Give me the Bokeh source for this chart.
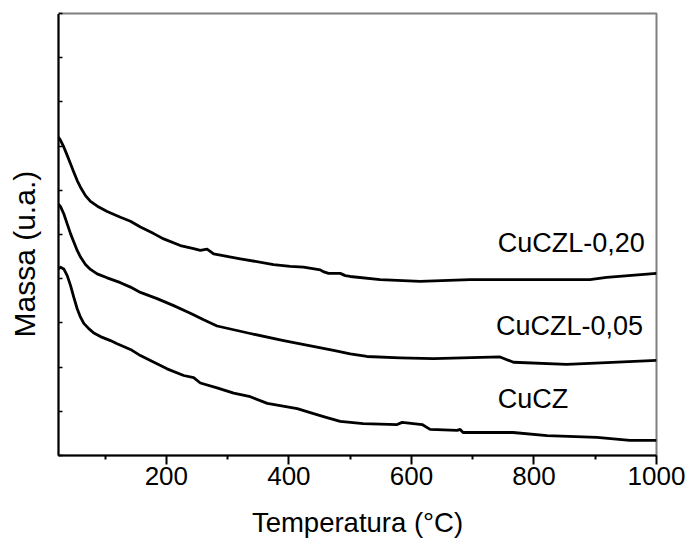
from bokeh.plotting import figure
from bokeh.models import FixedTicker, CustomJSTickFormatter, Range1d, Title, ColumnDataSource, LinearAxis
from bokeh.core.properties import value
from bokeh.embed import file_html
from bokeh.resources import INLINE

# ---- data (arbitrary mass units) ----
series_names = ["CuCZL-0,20", "CuCZL-0,05", "CuCZ"]

t_cuczl020 = [24, 27.3, 32.6, 38.2, 43.6, 49, 54.5, 59.9, 68, 76.2, 89.7, 103.4, 125.1, 141.4,
              157.7, 179.4, 195.7, 222.9, 244.6, 255.5, 266.5, 277.2, 320.7, 375, 402.3, 424,
              451.2, 456, 464.7, 483.8, 492, 500.1, 549, 614.2, 695.8, 809.9, 891.4, 918.6, 1000]
m_cuczl020 = [7.20, 7.13, 6.98, 6.79, 6.60, 6.41, 6.22, 6.07, 5.88, 5.75, 5.62, 5.52, 5.39, 5.30,
              5.17, 5.02, 4.90, 4.75, 4.68, 4.64, 4.67, 4.56, 4.45, 4.32, 4.28, 4.26,
              4.20, 4.16, 4.12, 4.12, 4.07, 4.05, 3.98, 3.94, 3.98, 3.98, 3.98, 4.03, 4.12]

t_cuczl005 = [24, 27.3, 32.6, 38.2, 43.6, 49, 54.5, 59.9, 68, 76.2, 87.1, 103.4, 125.1, 141.4,
              157.7, 184.9, 212, 239.2, 260.9, 282.8, 337, 391.4, 445.8, 472.9, 500.1, 527.3,
              581.6, 635.9, 744.7, 766.4, 853.4, 918.6, 1000]
m_cuczl005 = [5.69, 5.63, 5.47, 5.24, 5.02, 4.83, 4.64, 4.49, 4.32, 4.21, 4.11, 4.02, 3.91, 3.81,
              3.69, 3.55, 3.39, 3.22, 3.07, 2.93, 2.76, 2.60, 2.45, 2.38, 2.30, 2.24,
              2.21, 2.19, 2.23, 2.11, 2.06, 2.10, 2.15]

t_cucz = [24, 27.3, 32.6, 38.2, 43.6, 49, 54.5, 59.9, 65.3, 73.4, 81.6, 92.5, 108.8, 119.7,
          141.4, 157.7, 174, 201.2, 228.3, 244.6, 255.5, 282.8, 309.9, 337, 364.8, 413.7,
          434.9, 459.3, 483.8, 521.3, 576.7, 584.9, 617.5, 630.5, 674.6, 679.5, 684.3, 765.9,
          821.3, 902.8, 956.6, 1000]
m_cucz = [4.22, 4.26, 4.22, 4.07, 3.85, 3.58, 3.32, 3.13, 2.99, 2.87, 2.77, 2.69, 2.60, 2.53,
          2.40, 2.26, 2.15, 1.96, 1.81, 1.76, 1.64, 1.53, 1.41, 1.33, 1.18, 1.06,
          0.97, 0.87, 0.77, 0.72, 0.70, 0.75, 0.70, 0.59, 0.57, 0.59, 0.52, 0.52,
          0.45, 0.41, 0.34, 0.34]

x_major_ticks = [200, 400, 600, 800, 1000]
x_minor_ticks = [100, 300, 500, 700, 900]
y_ticks = [0, 1, 2, 3, 4, 5, 6, 7, 8, 9, 10]

FONT = "Liberation Sans"

p = figure(width=690, height=540, output_backend="svg", toolbar_location=None,
           x_range=Range1d(24, 1000), y_range=Range1d(0, 10),
           min_border_left=58, min_border_right=34, min_border_top=13, min_border_bottom=85)
p.background_fill_color = "white"
p.border_fill_color = "white"
p.xgrid.visible = False
p.ygrid.visible = False
p.outline_line_color = "#7f7f7f"
p.outline_line_width = 2

for xs, ys in [(t_cuczl020, m_cuczl020), (t_cuczl005, m_cuczl005), (t_cucz, m_cucz)]:
    p.line(xs, ys, line_color="black", line_width=2.8, line_join="round")

# curve labels
label_x = [741, 738, 741]
label_y = [4.80, 2.94, 1.27]
src = ColumnDataSource(dict(x=label_x, y=label_y, text=series_names))
p.text(x="x", y="y", text="text", source=src, text_align="left", text_baseline="middle",
       text_font=value(FONT), text_font_size="27px", text_color="black")

# x axis
xa = p.xaxis[0]
xa.ticker = FixedTicker(ticks=x_major_ticks, minor_ticks=x_minor_ticks)
xa.axis_line_width = 2
xa.axis_line_color = "black"
xa.major_tick_line_width = 2
xa.minor_tick_line_width = 2
xa.major_tick_in = 0
xa.major_tick_out = 9
xa.minor_tick_in = 0
xa.minor_tick_out = 4
xa.major_label_text_font = FONT
xa.major_label_text_font_size = "26px"
xa.major_label_text_color = "black"
xa.major_label_standoff = 2
xa.axis_label = "Temperatura (°C)"
xa.axis_label_text_font = FONT
xa.axis_label_text_font_size = "27.5px"
xa.axis_label_text_font_style = "normal"
xa.axis_label_text_color = "black"
xa.axis_label_standoff = 19

# y axis
ya = p.yaxis[0]
ya.ticker = FixedTicker(ticks=y_ticks, minor_ticks=[])
ya.formatter = CustomJSTickFormatter(code="return ''")
ya.axis_line_width = 2
ya.axis_line_color = "black"
ya.major_tick_line_width = 1.5
ya.major_tick_in = 4
ya.major_tick_out = 0
ya.minor_tick_in = 0
ya.minor_tick_out = 0
ya.major_label_standoff = 0
ya.axis_label_standoff = 0

# invisible (white) spacer axis between the y axis and its title
spacer = LinearAxis(ticker=FixedTicker(ticks=[10], minor_ticks=[]),
                    formatter=CustomJSTickFormatter(code="return ''"),
                    axis_line_color=None, major_tick_line_color="white", minor_tick_line_color=None,
                    major_tick_in=0, major_tick_out=14, minor_tick_in=0, minor_tick_out=0,
                    major_label_standoff=0, axis_label_standoff=0)
p.add_layout(spacer, "left")

ytitle = Title(text="Massa (u.a.)", align="left", offset=118,
               text_font=FONT, text_font_size="30px", text_font_style="normal",
               text_color="black", standoff=7)
p.add_layout(ytitle, "left")

open("out.html", "w").write(file_html(p, INLINE))
